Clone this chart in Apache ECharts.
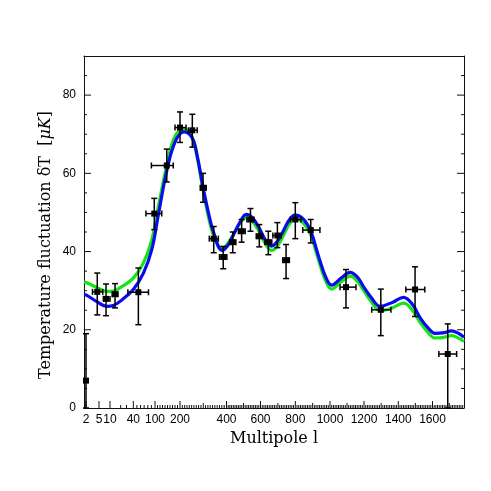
<!DOCTYPE html>
<html>
<head>
<meta charset="utf-8">
<script src="https://cdn.jsdelivr.net/npm/echarts@6/dist/echarts.min.js"></script>
<style>
  html, body { margin: 0; padding: 0; background: #fff; }
  #chart { width: 491px; height: 491px; }
</style>
</head>
<body>
<div id="chart"></div>
<script>
// multipole axis: l -> position along the axis (non-linear, log-ish at low l, linear above 400)
const scaleL = [1.6, 2, 5, 10, 20, 30, 40, 100, 200, 400, 600, 800, 1000, 1200, 1400, 1600, 1788]
const scaleU = [0, 2, 15, 26, 36.7, 42.5, 49.3, 71, 96, 142.5, 176.5, 211.3, 246, 280, 314.3, 348.5, 380]

const tickLabels = [2, 5, 10, 40, 100, 200, 400, 600, 800, 1000, 1200, 1400, 1600]
const yTicks = [0, 20, 40, 60, 80]

// measured band powers
const obsL = [2, 4.6, 8.2, 14.7, 54, 98, 147, 200, 253, 299, 345, 386, 437, 489, 541, 593, 645, 697, 747, 800, 889, 1094, 1298, 1498, 1691]
const obsT = [7, 29.7, 27.9, 29.1, 29.6, 49.7, 62, 71.7, 71, 56.3, 43.3, 38.6, 42.4, 45.2, 48.2, 43.9, 42.4, 44.1, 37.8, 48.2, 45.5, 30.9, 25.1, 30.3, 13.8]
const obsLo = [0, 23.8, 23.6, 25.6, 21.3, 45.6, 57.8, 67.9, 66.7, 52.6, 39.7, 35.6, 39.7, 42.4, 45.2, 41.2, 39.2, 41, 33.1, 43.3, 42.2, 25.6, 18.5, 23.4, 0]
const obsHi = [19, 34.5, 31.7, 31.8, 35.8, 53.6, 66.2, 75.7, 75.1, 60, 46.4, 41.3, 45, 48.2, 51, 46.9, 45.2, 47.4, 41.8, 52.5, 48.2, 35.4, 30.4, 36.1, 21.5]
const binLo = [2, 3.5, 7, 12, 32, 75, 90, 180, 236, 287, 326, 370, 420, 470, 520, 575, 625, 671, 728, 772, 843, 1059, 1245, 1444, 1638]
const binHi = [2, 6.7, 10, 17.5, 82, 127, 173, 226, 274, 313, 365, 402, 455, 510, 562, 612, 665, 719, 766, 833, 942, 1153, 1357, 1555, 1744]

// model spectra
const modelL = [1.6, 2.2, 4.5, 8.5, 13, 22.5, 40, 68, 91, 112, 147, 180, 217, 252, 273, 299, 322, 344, 381, 403, 432, 479, 517, 549, 590, 625, 664, 695, 730, 764, 798, 827, 856, 889, 914, 943, 977, 1010, 1065, 1118, 1159, 1196, 1241, 1294, 1365, 1431, 1482, 1529, 1574, 1615, 1662, 1713, 1750, 1788]
const modelBlue = [29.0, 28.8, 27.2, 26.0, 26.2, 27.7, 30.3, 34.5, 40.5, 48.9, 60.6, 68.0, 70.6, 69.1, 64.8, 56.5, 50.0, 45.0, 40.3, 41.3, 43.5, 47.5, 49.5, 48.8, 46.2, 43.2, 41.4, 42.5, 45.2, 48.0, 49.3, 49.0, 47.8, 45.3, 41.8, 37.5, 33.3, 31.4, 33.2, 34.7, 33.6, 31.1, 28.3, 26.0, 27.0, 28.3, 26.5, 23.0, 20.5, 19.1, 19.2, 19.7, 19.2, 18.1]
const modelGreen = [32.2, 32.0, 30.8, 29.8, 29.9, 31.1, 33.2, 37.1, 43.0, 51.0, 62.0, 69.5, 71.2, 69.2, 64.3, 55.8, 49.0, 44.2, 40.8, 41.8, 43.7, 47.2, 48.7, 47.9, 45.3, 42.2, 40.3, 41.3, 44.0, 46.9, 48.3, 48.0, 46.8, 44.3, 40.8, 36.5, 32.3, 30.4, 32.2, 33.7, 32.5, 30.2, 27.3, 24.9, 25.6, 26.8, 25.0, 21.8, 19.3, 17.9, 18.0, 18.5, 18.0, 17.0]

function lToU (l) {
  for (let i = 1; i < scaleL.length; i++) {
    if (l <= scaleL[i]) {
      const t = (l - scaleL[i - 1]) / (scaleL[i] - scaleL[i - 1])
      return scaleU[i - 1] + t * (scaleU[i] - scaleU[i - 1])
    }
  }
  return scaleU[scaleU.length - 1]
}

const uMax = scaleU[scaleU.length - 1]
const labelU = tickLabels.map(lToU)

// tick marks: [axis, value, length]   axis: 'b' bottom, 'l' left, 'r' right
let ticks = []
labelU.forEach(u => ticks.push(['b', u, 7]))
for (let l = 20; l <= 1780; l += 10) {
  if (tickLabels.indexOf(l) >= 0) continue
  if (l % 100 === 0) ticks.push(['b', lToU(l), 5])
  else if (l >= 40 || l === 20 || l === 30) ticks.push(['b', lToU(l), 3])
}
for (let v = 5; v < 90; v += 5) {
  const len = v % 20 === 0 ? 7 : 3
  ticks.push(['l', v, len])
  ticks.push(['r', v, len])
}

const chart = echarts.init(document.getElementById('chart'))
const black = '#111'
const sans = 'Liberation Sans'
const serif = 'DejaVu Serif'

function renderTick (params, api) {
  const side = ticks[params.dataIndex][0]
  const v = api.value(1)
  const len = api.value(2)
  let p, dx = 0, dy = 0
  if (side === 'b') { p = api.coord([v, 0]); dy = -len }
  else if (side === 'l') { p = api.coord([0, v]); dx = len }
  else { p = api.coord([uMax, v]); dx = -len }
  return {
    type: 'line',
    shape: { x1: p[0], y1: p[1], x2: p[0] + dx, y2: p[1] + dy },
    style: { stroke: black, lineWidth: 1 }
  }
}

function renderErr (params, api) {
  const u = api.value(0)
  const c = api.coord([u, api.value(1)])
  const lo = api.coord([u, api.value(2)])
  const hi = api.coord([u, api.value(3)])
  const xl = api.coord([api.value(4), api.value(1)])
  const xh = api.coord([api.value(5), api.value(1)])
  const st = { stroke: '#000', lineWidth: 1.5 }
  const cap = 3
  let kids = [
    { type: 'line', shape: { x1: c[0], y1: lo[1], x2: c[0], y2: hi[1] }, style: st },
    { type: 'line', shape: { x1: c[0] - cap, y1: lo[1], x2: c[0] + cap, y2: lo[1] }, style: st },
    { type: 'line', shape: { x1: c[0] - cap, y1: hi[1], x2: c[0] + cap, y2: hi[1] }, style: st }
  ]
  if (xh[0] - xl[0] > 1) {
    kids.push({ type: 'line', shape: { x1: xl[0], y1: c[1], x2: xh[0], y2: c[1] }, style: st })
    kids.push({ type: 'line', shape: { x1: xl[0], y1: c[1] - cap, x2: xl[0], y2: c[1] + cap }, style: st })
    kids.push({ type: 'line', shape: { x1: xh[0], y1: c[1] - cap, x2: xh[0], y2: c[1] + cap }, style: st })
  }
  kids.push({ type: 'rect', shape: { x: c[0] - 3, y: c[1] - 3, width: 6, height: 6 }, style: { fill: '#000' } })
  return { type: 'group', children: kids }
}

const axisLine = { show: true, onZero: false, lineStyle: { color: black, width: 1 } }

let option = {
  animation: false,
  backgroundColor: '#fff',
  grid: { left: 84, right: 27, top: 56, bottom: 83 },
  xAxis: [
    {
      type: 'value', min: 0, max: uMax, position: 'bottom',
      axisLine: axisLine,
      axisTick: { show: false },
      splitLine: { show: false },
      axisLabel: {
        show: true, customValues: labelU, margin: 6, color: '#000', fontFamily: sans, fontSize: 12,
        formatter: v => {
          let best = 0
          labelU.forEach((u, i) => { if (Math.abs(u - v) < Math.abs(labelU[best] - v)) best = i })
          return String(tickLabels[best])
        }
      },
      name: 'Multipole l',
      nameLocation: 'middle',
      nameGap: 22,
      nameTextStyle: { fontFamily: serif, fontSize: 16, color: '#000' }
    },
    {
      type: 'value', min: 0, max: uMax, position: 'top',
      axisLine: axisLine, axisTick: { show: false }, axisLabel: { show: false }, splitLine: { show: false }
    }
  ],
  yAxis: [
    {
      type: 'value', min: 0, max: 90, position: 'left',
      axisLine: axisLine, axisTick: { show: false }, splitLine: { show: false },
      axisLabel: { show: true, customValues: yTicks, margin: 8, color: '#000', fontFamily: sans, fontSize: 12 }
    },
    {
      type: 'value', min: 0, max: 90, position: 'right',
      axisLine: axisLine, axisTick: { show: false }, axisLabel: { show: false }, splitLine: { show: false }
    }
  ],
  graphic: [{
    type: 'text',
    x: 46,
    y: 245,
    rotation: Math.PI / 2,
    style: {
      text: 'Temperature fluctuation δT  [{i|μK}]',
      rich: { i: { fontStyle: 'italic', fontFamily: serif, fontSize: 16 } },
      font: '16px "DejaVu Serif"',
      fill: '#000',
      align: 'center',
      verticalAlign: 'middle'
    }
  }],
  series: [
    {
      type: 'custom', xAxisIndex: 0, yAxisIndex: 0,
      renderItem: renderTick,
      data: ticks.map(t => [0, t[1], t[2]]),
      silent: true, z: 1
    },
    {
      type: 'line', name: 'green', xAxisIndex: 0, yAxisIndex: 0,
      data: modelL.map((l, i) => [lToU(l), modelGreen[i]]),
      showSymbol: false, smooth: 0.4,
      lineStyle: { color: '#14e614', width: 3.2 }
    },
    {
      type: 'line', name: 'blue', xAxisIndex: 0, yAxisIndex: 0,
      data: modelL.map((l, i) => [lToU(l), modelBlue[i]]),
      showSymbol: false, smooth: 0.4,
      lineStyle: { color: '#0a0af0', width: 3.2 }
    },
    {
      type: 'custom', xAxisIndex: 0, yAxisIndex: 0,
      renderItem: renderErr,
      data: obsL.map((l, i) => [lToU(l), obsT[i], obsLo[i], obsHi[i], lToU(binLo[i]), lToU(binHi[i])]),
      z: 5
    }
  ]
}
chart.setOption(option)
</script>
</body>
</html>
